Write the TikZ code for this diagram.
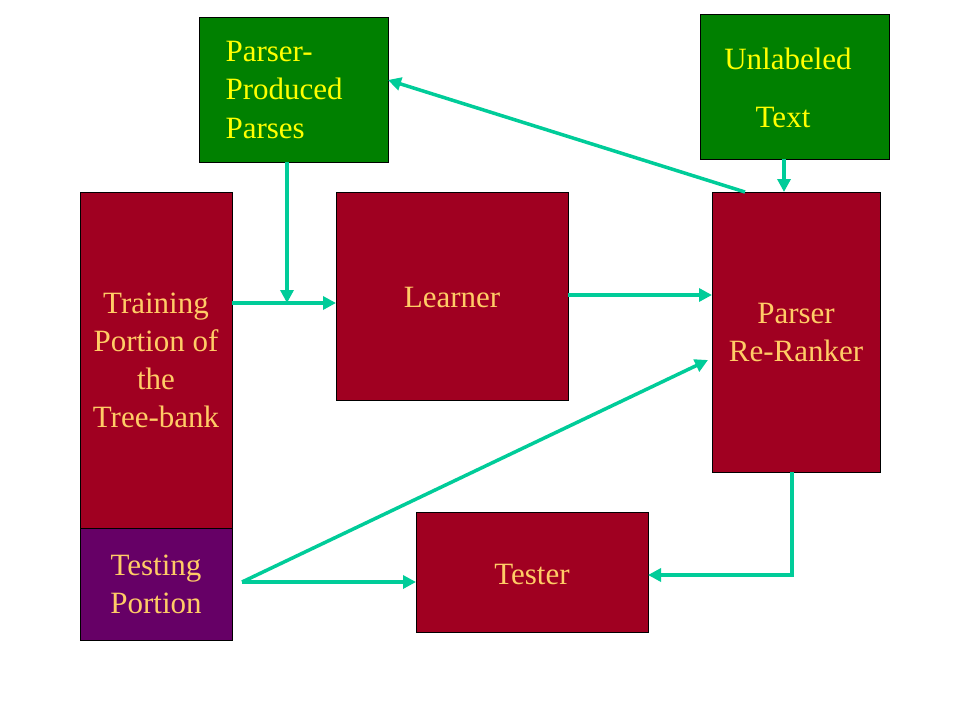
\documentclass[tikz,border=0pt]{standalone}
\usepackage{fontspec}
\setmainfont{Liberation Serif}
\usetikzlibrary{arrows.meta}
\definecolor{boxgreen}{HTML}{008000}
\definecolor{boxred}{HTML}{A00021}
\definecolor{boxpurple}{HTML}{660066}
\definecolor{arrowteal}{HTML}{00CC99}
\definecolor{txtorange}{HTML}{FFCC66}
\definecolor{txtyellow}{HTML}{FFFF00}
\tikzset{
  block/.style={draw=black, line width=0.8pt, anchor=north west, inner sep=0pt, outer sep=0pt,
    font=\fontsize{31}{38}\selectfont},
  gbox/.style={block, fill=boxgreen, text=txtyellow},
  rbox/.style={block, fill=boxred, text=txtorange},
  pbox/.style={block, fill=boxpurple, text=txtorange},
  arr/.style={draw=arrowteal, line width=3.5pt, -{Triangle[length=13pt,width=13pt]}},
}
\begin{document}
\begin{tikzpicture}[x=1pt,y=-1pt]
\useasboundingbox (0,0) rectangle (960,720);
\fill[white] (0,0) rectangle (960,720);
% boxes
\node[gbox, minimum width=189pt, minimum height=145pt] (pp) at (199,17) {};
\node[txtyellow, font=\fontsize{31}{38}\selectfont, align=left, anchor=west] (pptext) at (222,90) {Parser-\\Produced\\Parses};
\node[gbox, minimum width=189pt, minimum height=145pt] (ut) at (700,14) {};
\node[txtyellow, font=\fontsize{31}{58}\selectfont, align=center] (uttext) at (788,88) {Unlabeled\\\hspace*{-10pt}Text};
\node[rbox, minimum width=152pt, minimum height=336pt, align=center] (train) at (80,192) {Training\\Portion of\\the\\Tree-bank};
\node[pbox, minimum width=152pt, minimum height=112pt, align=center] (test) at (80,528) {Testing\\Portion};
\node[rbox, minimum width=232pt, minimum height=208pt] (learner) at (336,192) {};
\node[txtorange, font=\fontsize{31}{38}\selectfont] (learnertext) at (452,297) {Learner};
\node[rbox, minimum width=168pt, minimum height=280pt, align=center] (rr) at (712,192) {Parser\\Re-Ranker};
\node[rbox, minimum width=232pt, minimum height=120pt] (tester) at (416,512) {};
\node[txtorange, font=\fontsize{31}{38}\selectfont] (testertext) at (532,574) {Tester};
% helper coordinates
\coordinate (j1) at (287,303);
\coordinate (lr) at (0,295);
\coordinate (a3) at (745,0);
\coordinate (a3e) at (0,80);
\coordinate (ux) at (784,0);
\coordinate (fork) at (242,582);
\coordinate (rrin) at (0,360);
\coordinate (c6) at (792,575);
% connectors
\draw[arr] (train.east |- j1) -- (learner.west |- j1);
\draw[arr] (pp.south -| j1) -- (j1);
\draw[arr] (learner.east |- lr) -- (rr.west |- lr);
\draw[arr] (rr.north -| a3) -- (pp.east |- a3e);
\draw[arr] (ut.south -| ux) -- (rr.north -| ux);
\draw[arr] (fork) -- (tester.west |- fork);
\draw[arr] (fork) -- ([xshift=-4pt]rr.west |- rrin);
\draw[arr] (rr.south -| c6) |- (tester.east |- c6);
\end{tikzpicture}
\end{document}
